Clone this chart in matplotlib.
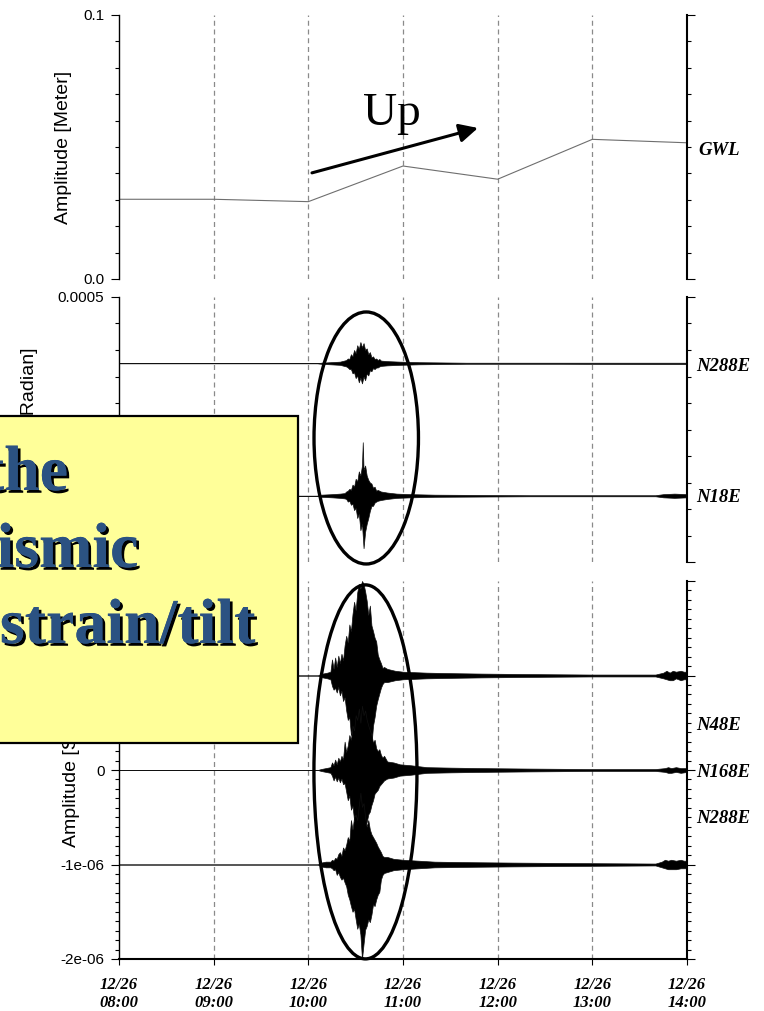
import matplotlib
matplotlib.use("Agg")
import matplotlib.pyplot as plt
import matplotlib.patheffects as pe
from matplotlib.patches import Ellipse, Rectangle
from matplotlib.ticker import FixedLocator, FixedFormatter, MultipleLocator
import numpy as np

plt.rcParams['font.family'] = ['Liberation Sans', 'DejaVu Sans']

# ---------------------------------------------------------------- data
# time axis: minutes after 12/26 08:00
hour_ticks = [0, 60, 120, 180, 240, 300, 360]
hour_labels = ["12/26\n08:00", "12/26\n09:00", "12/26\n10:00", "12/26\n11:00",
               "12/26\n12:00", "12/26\n13:00", "12/26\n14:00"]

# groundwater level [m], hourly readings
gwl_t = [0, 60, 120, 180, 240, 300, 360]
gwl_m = [0.0302, 0.0302, 0.0293, 0.0428, 0.0378, 0.0529, 0.0516]

# tilt traces: plotting offset [rad] and envelope (upper / lower) in microradians
tilt_n288e_offset = 375e-6
tilt_n288e_t = [0, 125, 128, 134, 140, 144, 145, 146, 147, 148, 149, 150, 151, 152, 153, 154, 155,
                156, 157, 158, 159, 160, 161, 162, 163, 164, 165, 166, 170, 178, 190, 220, 280, 340,
                360]
tilt_n288e_hi = [0, 0, 1, 2, 3, 6, 9, 8, 17, 13, 25, 19, 34, 27, 40, 30, 38, 25, 28, 17, 21, 11, 13,
                 8, 9, 6, 8, 5, 4, 3, 2, 1, 1, 1, 1]
tilt_n288e_lo = [0, 0, 1, 2, 3, 6, 8, 11, 11, 19, 17, 28, 23, 36, 27, 38, 25, 32, 19, 23, 13, 15, 9,
                 11, 8, 8, 6, 5, 4, 3, 2, 1, 1, 1.5, 1.5]

tilt_n18e_offset = 125e-6
tilt_n18e_t = [0, 125, 128, 135, 140, 143, 144, 145, 146, 147, 148, 149, 150, 151, 152, 153, 154,
               154.5, 155, 156, 157, 158, 159, 160, 161, 162, 163, 164, 166, 170, 176, 185, 200, 260,
               340, 345, 352, 360]
tilt_n18e_hi = [0, 0, 2, 3, 4, 5, 8, 9.5, 13, 11, 21, 17, 32, 27, 46, 38, 57, 101, 49, 57, 38, 30, 25,
                23, 15, 17, 9.5, 11, 8, 6, 4, 3, 2, 1, 1, 3, 4, 3]
tilt_n18e_lo = [0, 0, 2, 3, 4, 5, 6, 11, 9.5, 17, 15, 27, 23, 42, 34, 65, 53, 76, 99, 68, 53, 42, 28.5,
                19, 19, 13, 11, 9.5, 8, 6, 4, 3, 2, 1, 1, 3, 4, 3]

# strain traces: plotting offset [strain] and envelope (upper / lower) in units of 1e-8
burst_minutes = [135, 136, 137, 138, 139, 140, 141, 142, 143, 144, 145, 146, 147, 148, 149, 150, 151,
                 152, 153, 154, 155, 156, 157, 158, 159, 160, 161, 162, 163, 164, 165, 166, 167, 168]

strain_n48e_offset = 1e-6
strain_n48e_t = ([0, 126, 129, 132, 134] + burst_minutes +
                 [170, 175, 180, 195, 210, 230, 260, 300, 340, 345, 347, 349, 351, 353, 356, 358, 360])
strain_n48e_hi = [0, 0, 2, 3, 4,
                  17, 7, 19, 9, 21, 13, 23, 16, 32, 42, 35, 54, 47, 65, 78, 69, 88, 97, 92, 100, 97,
                  89, 79, 64, 74, 53, 47, 40, 36, 22, 17, 13, 8, 9,
                  7, 5, 4, 3, 2.5, 2, 1.5, 1, 1, 3, 5, 3, 5, 4, 5, 4, 4]
strain_n48e_lo = [0, 0, 2, 3, 4,
                  11, 15, 13, 18, 12, 21, 16, 27, 23, 37, 47, 44, 63, 58, 79, 95, 89, 100, 97, 101, 99,
                  101, 92, 84, 69, 74, 53, 44, 32, 25, 19, 13, 9, 7,
                  7, 5, 4, 3, 2.5, 2, 1.5, 1, 1, 3, 4, 5, 5, 3, 5, 4, 4]

strain_n168e_offset = 0.0
strain_n168e_t = ([0, 126, 128, 131, 134] + burst_minutes +
                  [170, 174, 178, 185, 195, 210, 230, 260, 300, 340, 346, 348, 350, 353, 356, 360])
strain_n168e_hi = [0, 0, 1, 2, 3,
                   8, 5, 11, 6, 13, 9, 15, 11, 30, 19, 26, 37, 32, 47, 42, 58, 53, 65, 50, 68, 58, 63,
                   53, 47, 42, 37, 29, 32, 23, 20, 22, 16, 13, 15,
                   9, 8, 6, 5, 3, 2.5, 2, 1.5, 1, 1, 2, 3, 2, 3, 2, 2]
strain_n168e_lo = [0, 0, 1, 2, 3,
                   6, 11, 7, 12, 8, 13, 9, 15, 14, 23, 32, 27, 42, 38, 53, 48, 63, 58, 65, 61, 68, 58,
                   55, 47, 44, 37, 32, 25, 23, 21, 17, 15, 13, 11,
                   9, 8, 6, 5, 3, 2.5, 2, 1.5, 1, 1, 2, 3, 3, 2, 3, 2]

strain_n288e_offset = -1e-6
strain_n288e_t = ([0, 126, 128, 131, 134] + burst_minutes +
                  [170, 174, 180, 190, 200, 220, 250, 290, 340, 344, 346, 348, 350, 353, 356, 358,
                   360])
strain_n288e_hi = [0, 0, 2, 3, 3,
                   5, 4, 7, 6, 11, 13, 9, 18, 15, 21, 29, 25, 47, 37, 50, 53, 47, 63, 76, 61, 65, 50,
                   40, 47, 37, 32, 29, 26, 23, 19, 16, 13, 9, 8,
                   8, 6, 5, 4, 3, 2.5, 2, 1.5, 1, 3, 5, 4, 5, 4, 5, 4, 4]
strain_n288e_lo = [0, 0, 2, 3, 3,
                   4, 6, 5, 11, 8, 13, 16, 14, 19, 23, 32, 37, 44, 50, 47, 58, 68, 63, 74, 100, 84, 69,
                   65, 58, 61, 53, 42, 44, 37, 32, 29, 16, 11, 9,
                   8, 6, 5, 4, 3, 2.5, 2, 1.5, 1, 3, 4, 5, 5, 5, 4, 4, 4]

# ---------------------------------------------------------------- layout helpers
FIG_W, FIG_H = 764, 1011
fig = plt.figure(figsize=(FIG_W / 100, FIG_H / 100), dpi=100)


def fx(px):
    return px / FIG_W


def fy(py):
    return 1 - py / FIG_H


def panel(top_px, bot_px):
    left, right = 119, 687
    return fig.add_axes([fx(left), fy(bot_px), (right - left) / FIG_W, (bot_px - top_px) / FIG_H])


ax1 = panel(15, 279)
ax2 = panel(297, 562)
ax3 = panel(581, 959)

serif = 'Liberation Serif'

for ax in (ax1, ax2, ax3):
    ax.set_xlim(0, 360)
    ax.spines['top'].set_visible(False)
    ax.spines['left'].set_linewidth(1.0)
    ax.spines['right'].set_linewidth(1.5)
    ax.tick_params(axis='y', which='both', left=True, right=True, direction='out',
                   labelsize=11, pad=5, width=0.8)
    ax.tick_params(axis='y', which='major', length=5.5)
    ax.tick_params(axis='y', which='minor', length=3)
    for t in hour_ticks[1:-1]:
        ax.axvline(t, color='#8a8a8a', lw=0.9, ls=(0, (4, 3)), zorder=0)

for ax in (ax1, ax2):
    ax.spines['bottom'].set_visible(False)
    ax.tick_params(axis='x', which='both', bottom=False, labelbottom=False)

# ---------------------------------------------------------------- top: groundwater level
ax1.plot(gwl_t, gwl_m, color='#6e6e6e', lw=0.8)
ax1.set_ylim(0, 0.1)
ax1.yaxis.set_major_locator(FixedLocator([0.0, 0.1]))
ax1.yaxis.set_major_formatter(FixedFormatter(["0.0", "0.1"]))
ax1.yaxis.set_minor_locator(MultipleLocator(0.01))

ax1.annotate('', xy=(227.5, 0.0572), xytext=(122.3, 0.0402),
             arrowprops=dict(arrowstyle='-|>', lw=2.2, color='black',
                             mutation_scale=28, shrinkA=0, shrinkB=0))
fig.text(fx(363), fy(125), 'Up', fontsize=34, family=serif, ha='left', va='baseline')


# ---------------------------------------------------------------- traces
def trace(ax, t, hi, lo, offset, unit):
    t = np.asarray(t, float)
    up = offset + np.asarray(hi, float) * unit
    dn = offset - np.asarray(lo, float) * unit
    ax.fill_between(t, up, dn, facecolor='black', edgecolor='#111111', lw=0.5, zorder=2)


trace(ax2, tilt_n288e_t, tilt_n288e_hi, tilt_n288e_lo, tilt_n288e_offset, 1e-6)
trace(ax2, tilt_n18e_t, tilt_n18e_hi, tilt_n18e_lo, tilt_n18e_offset, 1e-6)
ax2.set_ylim(0, 0.0005)
ax2.yaxis.set_major_locator(FixedLocator([0.0, 0.0005]))
ax2.yaxis.set_major_formatter(FixedFormatter(["0.0", "0.0005"]))
ax2.yaxis.set_minor_locator(MultipleLocator(0.00005))

trace(ax3, strain_n48e_t, strain_n48e_hi, strain_n48e_lo, strain_n48e_offset, 1e-8)
trace(ax3, strain_n168e_t, strain_n168e_hi, strain_n168e_lo, strain_n168e_offset, 1e-8)
trace(ax3, strain_n288e_t, strain_n288e_hi, strain_n288e_lo, strain_n288e_offset, 1e-8)
ax3.set_ylim(-2e-6, 2e-6)
ax3.yaxis.set_major_locator(FixedLocator([-2e-6, -1e-6, 0, 1e-6, 2e-6]))
ax3.yaxis.set_major_formatter(FixedFormatter(["-2e-06", "-1e-06", "0", "1e-06", "2e-06"]))
ax3.yaxis.set_minor_locator(MultipleLocator(1e-7))
ax3.spines['bottom'].set_linewidth(1.5)
ax3.set_xticks(hour_ticks)
ax3.set_xticklabels(hour_labels, family=serif, fontweight='bold', fontstyle='italic',
                    fontsize=12, linespacing=1.15)
ax3.tick_params(axis='x', direction='out', length=4.5, pad=8.5, width=0.8)

# ---------------------------------------------------------------- axis titles
ylab = dict(rotation=90, ha='center', va='center', fontsize=14)
fig.text(fx(63), fy(147), 'Amplitude [Meter]', **ylab)
fig.text(fx(30), fy(430), 'Amplitude [Radian]', **ylab)
fig.text(fx(71), fy(770), 'Amplitude [Strain]', **ylab)

comp = dict(family=serif, fontweight='bold', fontstyle='italic', fontsize=13.5,
            ha='left', va='baseline')
fig.text(fx(698), fy(155), 'GWL', **comp)
fig.text(fx(696), fy(371), 'N288E', **comp)
fig.text(fx(696), fy(502), 'N18E', **comp)
fig.text(fx(696), fy(730), 'N48E', **comp)
fig.text(fx(696), fy(777), 'N168E', **comp)
fig.text(fx(696), fy(823), 'N288E', **comp)

# ---------------------------------------------------------------- event outlines
ax2.add_patch(Ellipse((156.7, 2.34e-4), 66.2, 4.755e-4, fill=False, lw=2.4,
                      edgecolor='black', clip_on=False, zorder=5))
ax3.add_patch(Ellipse((156.2, -0.02e-6), 65.3, 3.958e-6, fill=False, lw=2.4,
                      edgecolor='black', clip_on=False, zorder=5))

# ---------------------------------------------------------------- callout box
box = Rectangle((fx(-10), fy(743)), fx(308), (743 - 416) / FIG_H, transform=fig.transFigure,
                facecolor='#FFFF99', edgecolor='black', lw=1.6, zorder=10)
fig.add_artist(box)
callout = dict(family=serif, fontweight='bold', fontsize=46, color='#2B5282', ha='right',
               va='baseline', zorder=11,
               path_effects=[pe.withSimplePatchShadow(offset=(2.0, -2.0),
                                                      shadow_rgbFace='black', alpha=1.0),
                             pe.Normal()])
fig.text(fx(68), fy(490), 'the', **callout)
fig.text(fx(138), fy(567), 'ismic', **callout)
fig.text(fx(255), fy(643), 'strain/tilt', **callout)

fig.savefig('out.png', dpi=100)
